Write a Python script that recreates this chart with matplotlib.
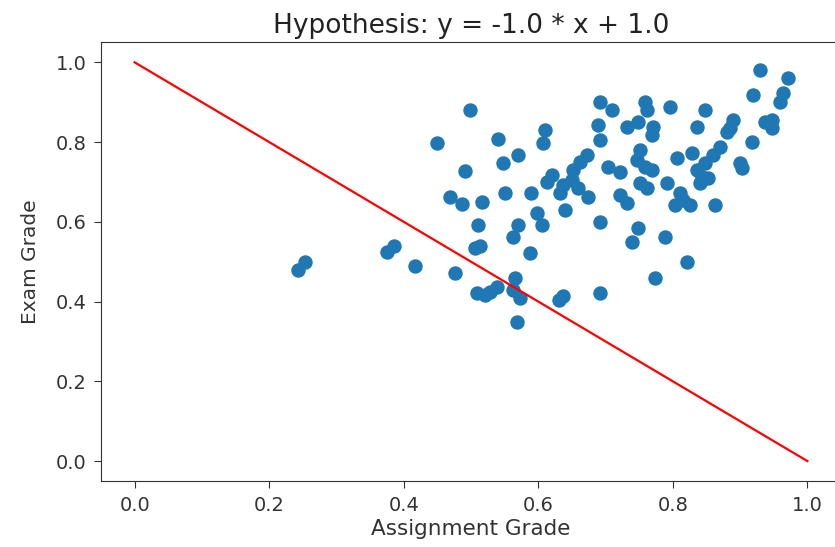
import matplotlib
matplotlib.use("Agg")
import matplotlib.pyplot as plt
import numpy as np

assignment_grade = [
    0.243, 0.253, 0.375, 0.386, 0.417, 0.449, 0.476, 0.469, 0.487, 0.491,
    0.499, 0.506, 0.513, 0.510, 0.516, 0.509, 0.521, 0.528, 0.539, 0.540,
    0.548, 0.551, 0.562, 0.573, 0.565, 0.568, 0.570, 0.562, 0.570, 0.588,
    0.589, 0.598, 0.606, 0.610, 0.607, 0.613, 0.620, 0.632, 0.637, 0.650,
    0.659, 0.674, 0.640, 0.631, 0.637, 0.652, 0.662, 0.672, 0.689, 0.692,
    0.692, 0.710, 0.692, 0.692, 0.704, 0.721, 0.721, 0.732, 0.732, 0.748,
    0.770, 0.769, 0.759, 0.762, 0.751, 0.747, 0.759, 0.769, 0.751, 0.762,
    0.748, 0.739, 0.773, 0.788, 0.791, 0.796, 0.806, 0.828, 0.811, 0.803,
    0.825, 0.815, 0.821, 0.836, 0.848, 0.836, 0.843, 0.852, 0.840, 0.848,
    0.860, 0.870, 0.863, 0.880, 0.885, 0.889, 0.900, 0.903, 0.918, 0.919,
    0.929, 0.937, 0.947, 0.947, 0.959, 0.964, 0.971,
]
exam_grade = [
    0.479, 0.499, 0.525, 0.540, 0.489, 0.798, 0.472, 0.662, 0.645, 0.728,
    0.880, 0.535, 0.540, 0.592, 0.650, 0.422, 0.417, 0.424, 0.437, 0.808,
    0.748, 0.672, 0.429, 0.409, 0.459, 0.349, 0.768, 0.562, 0.592, 0.522,
    0.672, 0.622, 0.592, 0.830, 0.798, 0.700, 0.718, 0.672, 0.692, 0.705,
    0.685, 0.662, 0.630, 0.404, 0.414, 0.730, 0.750, 0.768, 0.843, 0.805,
    0.900, 0.880, 0.600, 0.422, 0.738, 0.725, 0.667, 0.647, 0.838, 0.850,
    0.838, 0.818, 0.900, 0.880, 0.780, 0.755, 0.738, 0.730, 0.697, 0.685,
    0.585, 0.550, 0.459, 0.562, 0.697, 0.888, 0.760, 0.773, 0.672, 0.642,
    0.642, 0.655, 0.500, 0.838, 0.880, 0.730, 0.713, 0.710, 0.697, 0.748,
    0.768, 0.788, 0.642, 0.825, 0.835, 0.855, 0.748, 0.735, 0.800, 0.918,
    0.981, 0.850, 0.855, 0.835, 0.900, 0.923, 0.961,
]

slope = -1.0
intercept = 1.0
line_x = [0.0, 1.0]
line_y = [slope * v + intercept for v in line_x]

fig = plt.figure(figsize=(8.35, 5.47), dpi=100)
ax = fig.add_axes([101 / 835, 1 - 481 / 547, 740 / 835, (481 - 42.4) / 547])
ax.scatter(assignment_grade, exam_grade, s=88, color="#1f77b4", zorder=2)
ax.plot(line_x, line_y, color="red", lw=1.6, zorder=3)
ax.set_xlim(-0.05, 1.05)
ax.set_ylim(-0.05, 1.05)
ax.set_xticks([0.0, 0.2, 0.4, 0.6, 0.8, 1.0])
ax.set_yticks([0.0, 0.2, 0.4, 0.6, 0.8, 1.0])
ax.tick_params(labelsize=14, length=5, pad=5.5, color="#333333", labelcolor="#333333")
for sp in ax.spines.values():
    sp.set_color("#333333")
ax.set_xlabel("Assignment Grade", fontsize=15.5, color="#333333", labelpad=3)
ax.set_ylabel("Exam Grade", fontsize=14.5, color="#333333", labelpad=11)
ax.set_title("Hypothesis: y = %.1f * x + %.1f" % (slope, intercept), fontsize=19,
             color="#222222", pad=7)
fig.savefig("out.png", dpi=100)
